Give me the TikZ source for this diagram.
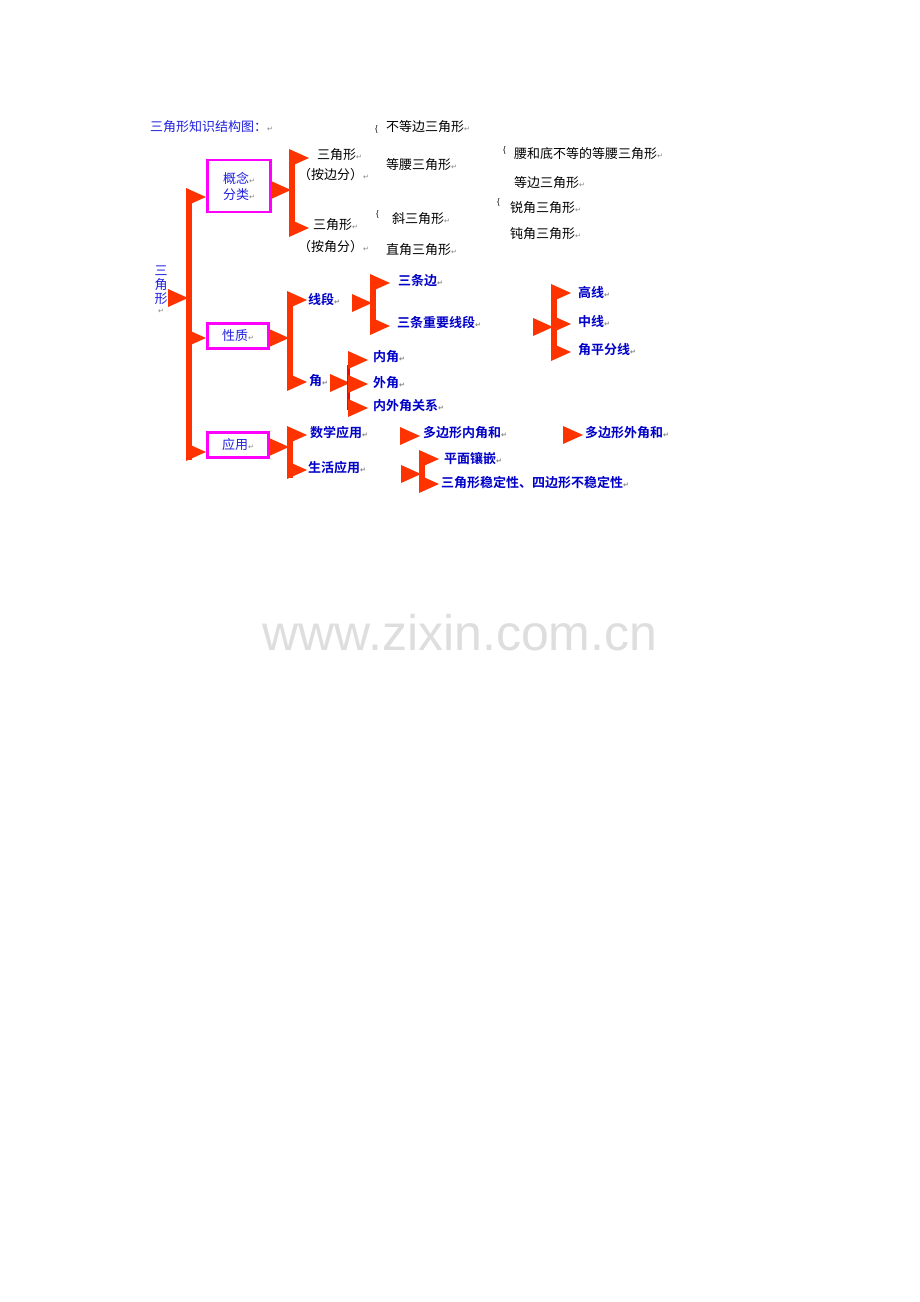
\documentclass[tikz,border=0pt]{standalone}
\usepackage{fontspec}
\setmainfont{Liberation Sans}
\newfontfamily\cjk{Noto Sans CJK SC}
\newfontfamily\cjkb[BoldFont={Noto Sans CJK SC Bold}]{Noto Sans CJK SC}
\newfontfamily\arr{DejaVu Sans}
\usepackage{tikz}

\definecolor{tred}{HTML}{FF3300}
\definecolor{tblue}{HTML}{2020E0}
\definecolor{dblue}{HTML}{0000C8}
\definecolor{tpink}{HTML}{FF00FF}
\newcommand{\ret}{{\arr\fontsize{7}{7}\selectfont\textcolor{gray}{↵}}}
% right-pointing red wedge: x, y of its tip base
\newcommand{\redtip}[2]{\fill[tred] (#1,#2-9) -- (#1+20,#2) -- (#1,#2+9) -- cycle;}
% red bar: x, top y, bottom y
\newcommand{\redbar}[3]{\fill[tred] (#1,#2) rectangle (#1+6,#3);}

\begin{document}
\begin{tikzpicture}[x=1pt,y=-1pt,
    plain/.style={anchor=west,inner sep=0pt,font=\cjk\fontsize{13}{15}\selectfont},
    bluet/.style={plain,text=tblue},
    bold/.style={plain,text=dblue,font=\cjkb\bfseries\fontsize{13}{15}\selectfont},
    topic/.style={draw=tpink,line width=2.6pt,inner sep=0pt,align=center,text=tblue,font=\cjk\fontsize{13}{16}\selectfont}]
    \useasboundingbox[fill=white] (0,0) rectangle (920,1302);

    % title and root
    \node[bluet] (title) at (150,127) {三角形知识结构图：\ret};
    \node[bluet,align=center,anchor=center,font=\cjk\fontsize{13}{14}\selectfont] (root) at (161,290) {三\\角\\形\\[-4pt]\ret};

    % main branch
    \redtip{168}{298}
    \redbar{186}{197}{460}
    \redtip{186}{197}
    \redtip{186}{338}
    \redtip{186}{452}

    % concepts
    \node[topic,minimum width=63,minimum height=52] (concept) at (239,186) {概念\ret\\分类\ret};
    \redtip{271}{190}
    \redbar{289}{158}{233}
    \redtip{289}{158}
    \redtip{289}{228}
    \node[plain] (bySide) at (317,155) {三角形\ret};
    \node[plain] (bySideb) at (298,175) {（按边分）\ret};
    \node[plain] (byAngle) at (313,225) {三角形\ret};
    \node[plain] (byAngleb) at (298,247) {（按角分）\ret};
    \node[plain,font=\fontsize{8}{8}\selectfont] (bra1) at (375,129) {\{};
    \node[plain] (scalene) at (386,127) {不等边三角形\ret};
    \node[plain] (isosc) at (386,165) {等腰三角形\ret};
    \node[plain,font=\fontsize{8}{8}\selectfont] (bra2) at (503,150) {\{};
    \node[plain] (isoscA) at (514,154) {腰和底不等的等腰三角形\ret};
    \node[plain] (equil) at (514,183) {等边三角形\ret};
    \node[plain,font=\fontsize{8}{8}\selectfont] (bra3) at (376,214) {\{};
    \node[plain] (oblique) at (392,219) {斜三角形\ret};
    \node[plain] (right) at (386,250) {直角三角形\ret};
    \node[plain,font=\fontsize{8}{8}\selectfont] (bra4) at (497,202) {\{};
    \node[plain] (acute) at (510,208) {锐角三角形\ret};
    \node[plain] (obtuse) at (510,234) {钝角三角形\ret};

    % properties
    \node[topic,minimum width=61,minimum height=25] (prop) at (238,336) {性质\ret};
    \redtip{269}{338}
    \redbar{287}{300}{387}
    \redtip{287}{300}
    \redtip{287}{382}
    \node[bold] (segment) at (308,300) {线段\ret};
    \node[bold] (angle) at (309,381) {角\ret};
    \redtip{352}{303}
    \redbar{370}{281}{330}
    \redtip{370}{283}
    \redtip{370}{326}
    \node[bold] (sides) at (398,281) {三条边\ret};
    \node[bold] (keyseg) at (397,323) {三条重要线段\ret};
    \redtip{533}{327}
    \redbar{551}{290}{356}
    \redtip{551}{293}
    \redtip{551}{324}
    \redtip{551}{352}
    \node[bold] (height) at (578,293) {高线\ret};
    \node[bold] (median) at (578,322) {中线\ret};
    \node[bold] (bisect) at (578,350) {角平分线\ret};
    \redtip{330}{383}
    \fill[red] (347,365) rectangle (350,410);
    \redtip{348}{360}
    \redtip{348}{384}
    \redtip{348}{408}
    \node[bold] (inner) at (373,357) {内角\ret};
    \node[bold] (outer) at (373,383) {外角\ret};
    \node[bold] (relation) at (373,406) {内外角关系\ret};

    % applications
    \node[topic,minimum width=61,minimum height=25] (apply) at (238,445) {应用\ret};
    \redtip{269}{447}
    \redbar{287}{432}{478}
    \redtip{287}{435}
    \redtip{287}{470}
    \node[bold] (math) at (310,433) {数学应用\ret};
    \node[bold] (life) at (308,468) {生活应用\ret};
    \redtip{400}{436}
    \node[bold] (innerSum) at (423,433) {多边形内角和\ret};
    \redtip{563}{435}
    \node[bold] (outerSum) at (585,433) {多边形外角和\ret};
    \redtip{401}{474}
    \redbar{419}{457}{487}
    \redtip{419}{459}
    \redtip{419}{484}
    \node[bold] (tiling) at (444,458) {平面镶嵌\ret};
    \node[bold] (stable) at (441,483) {三角形稳定性、四边形不稳定性\ret};

    % watermark
    \node[text=black!13,font=\fontsize{50}{50}\selectfont] (mark) at (460,633) {www.zixin.com.cn};
\end{tikzpicture}
\end{document}
